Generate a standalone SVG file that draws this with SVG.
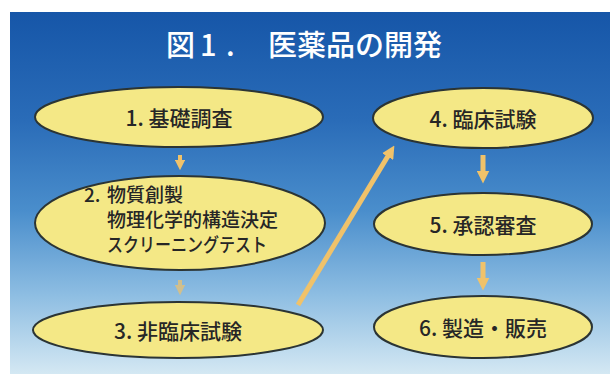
<svg xmlns="http://www.w3.org/2000/svg" width="610" height="374" viewBox="0 0 610 374">
<defs>
<linearGradient id="bg" x1="0" y1="0" x2="0" y2="1">
<stop offset="0" stop-color="#1656a8"/>
<stop offset="0.3" stop-color="#2a6cb8"/>
<stop offset="0.55" stop-color="#4a8ecc"/>
<stop offset="0.78" stop-color="#8dbde2"/>
<stop offset="1" stop-color="#d4e8f3"/>
</linearGradient>
<marker id="ah" viewBox="0 0 10 10" refX="5" refY="5" markerWidth="2.6" markerHeight="2.6" orient="auto" markerUnits="strokeWidth">
<path d="M0,0 L10,5 L0,10 z" fill="#f0c26a"/>
</marker>
</defs>
<style>
.node ellipse{fill:#f4e886;stroke:#2b3434;stroke-width:2}
.node text{font-family:"Noto Sans CJK JP","Noto Sans",sans-serif;font-size:21px;fill:#262626;font-weight:500}
.node text.s{font-size:19px}
.c{text-anchor:middle;dominant-baseline:central}
.conn line{stroke:#f0c26a;stroke-linecap:butt}
.title{font-family:"Noto Sans CJK JP","Noto Sans",sans-serif;font-size:29px;fill:#ffffff;font-weight:500}
</style>
<rect x="0" y="0" width="610" height="374" fill="#ffffff"/>
<rect x="10" y="12" width="600" height="362" fill="url(#bg)"/>
<text class="title" y="56"><tspan x="166">図</tspan><tspan x="200">1</tspan><tspan x="226">.</tspan><tspan x="268">医薬品の開発</tspan></text>
<g id="connectors" class="conn">
<line x1="180" y1="155" x2="180" y2="165" stroke-width="4" marker-end="url(#ah)"/>
<line x1="180" y1="280" x2="180" y2="290" stroke-width="4" marker-end="url(#ah)" opacity="0.7"/>
<line x1="483" y1="155" x2="483" y2="177" stroke-width="5" marker-end="url(#ah)"/>
<line x1="483" y1="262" x2="483" y2="284" stroke-width="5" marker-end="url(#ah)"/>
<line x1="298" y1="305" x2="391" y2="151" stroke-width="5" marker-end="url(#ah)"/>
</g>
<g id="n1" class="node">
<ellipse cx="179" cy="117" rx="144" ry="30"/>
<text class="c" x="179" y="117">1. 基礎調査</text>
</g>
<g id="n2" class="node">
<ellipse cx="180" cy="223" rx="145" ry="47"/>
<text class="s" y="202"><tspan x="84">2.</tspan><tspan x="107">物質創製</tspan></text>
<text class="s" x="107" y="227">物理化学的構造決定</text>
<text class="s" x="107" y="252" textLength="160" lengthAdjust="spacingAndGlyphs">スクリーニングテスト</text>
</g>
<g id="n3" class="node">
<ellipse cx="178" cy="330" rx="145" ry="28"/>
<text class="c" x="178" y="330">3. 非臨床試験</text>
</g>
<g id="n4" class="node">
<ellipse cx="483" cy="118" rx="110" ry="30"/>
<text class="c" x="483" y="118">4. 臨床試験</text>
</g>
<g id="n5" class="node">
<ellipse cx="483" cy="224" rx="109" ry="31"/>
<text class="c" x="483" y="224">5. 承認審査</text>
</g>
<g id="n6" class="node">
<ellipse cx="483" cy="327" rx="109" ry="31"/>
<text class="c" x="483" y="327">6. 製造・販売</text>
</g>
</svg>
